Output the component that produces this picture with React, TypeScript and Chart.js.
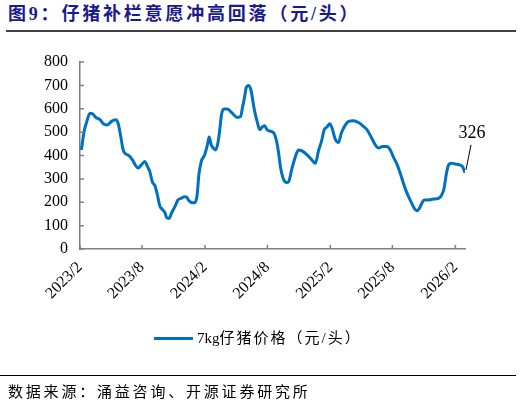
import React, { useEffect, useRef } from "react";
import { Chart, registerables } from "chart.js";

Chart.register(...registerables);

const titleText = "图9：仔猪补栏意愿冲高回落（元/头）";
const sourceText = "数据来源：涌益咨询、开源证券研究所";
const seriesUnit = "7kg";
const seriesNameRest = "仔猪价格（元/头）";
const seriesName = seriesUnit + seriesNameRest;
const lastValueLabel = "326";

const dates = [
  "2023-02-05", "2023-02-13", "2023-02-21", "2023-03-02", "2023-03-11", "2023-03-19", "2023-04-01", "2023-04-10",
  "2023-04-22", "2023-05-04", "2023-05-16", "2023-05-23", "2023-05-31", "2023-06-07", "2023-06-14", "2023-06-24",
  "2023-07-04", "2023-07-14", "2023-07-21", "2023-07-30", "2023-08-09", "2023-08-17", "2023-08-24", "2023-08-31",
  "2023-09-08", "2023-09-15", "2023-09-22", "2023-09-29", "2023-10-07", "2023-10-12", "2023-10-19", "2023-10-26",
  "2023-11-05", "2023-11-14", "2023-11-24", "2023-12-03", "2023-12-09", "2023-12-16", "2023-12-26", "2024-01-02",
  "2024-01-09", "2024-01-14", "2024-01-21", "2024-01-31", "2024-02-08", "2024-02-13", "2024-02-19", "2024-02-25",
  "2024-03-03", "2024-03-09", "2024-03-15", "2024-03-20", "2024-03-27", "2024-04-06", "2024-04-15", "2024-04-25",
  "2024-05-05", "2024-05-15", "2024-05-20", "2024-05-26", "2024-06-01", "2024-06-08", "2024-06-15", "2024-06-19",
  "2024-06-25", "2024-07-02", "2024-07-10", "2024-07-17", "2024-07-24", "2024-07-31", "2024-08-12", "2024-08-20",
  "2024-08-27", "2024-09-03", "2024-09-08", "2024-09-16", "2024-09-26", "2024-10-02", "2024-10-12", "2024-10-22",
  "2024-10-31", "2024-11-10", "2024-11-25", "2024-12-09", "2024-12-19", "2024-12-29", "2025-01-06", "2025-01-14",
  "2025-01-22", "2025-01-30", "2025-02-06", "2025-02-15", "2025-02-25", "2025-03-05", "2025-03-17", "2025-03-26",
  "2025-04-10", "2025-04-24", "2025-05-09", "2025-05-19", "2025-05-31", "2025-06-12", "2025-06-22", "2025-07-03",
  "2025-07-16", "2025-07-26", "2025-08-04", "2025-08-14", "2025-08-24", "2025-09-02", "2025-09-12", "2025-09-24",
  "2025-10-04", "2025-10-11", "2025-10-19", "2025-10-26", "2025-11-02", "2025-11-14", "2025-11-29", "2025-12-14",
  "2025-12-23", "2025-12-30", "2026-01-05", "2026-01-12", "2026-01-21", "2026-01-31", "2026-02-13", "2026-02-23",
  "2026-03-01",
];

const prices = [
  424, 503, 546, 581, 577, 563, 553, 536,
  531, 546, 553, 539, 481, 424, 407, 399,
  381, 356, 346, 360, 374, 353, 331, 288,
  270, 231, 184, 170, 156, 134, 131, 153,
  181, 210, 217, 224, 222, 207, 198, 198,
  231, 317, 374, 403, 446, 479, 446, 432,
  424, 449, 510, 574, 599, 599, 589, 574,
  563, 567, 603, 646, 693, 699, 674, 639,
  589, 546, 510, 522, 527, 510, 503, 496,
  467, 410, 353, 303, 284, 288, 346, 396,
  424, 420, 403, 381, 367, 424, 460, 510,
  522, 536, 517, 470, 456, 496, 531, 546,
  549, 541, 524, 510, 479, 446, 432, 439,
  439, 424, 393, 364, 324, 282, 241, 203,
  174, 164, 174, 196, 210, 210, 214, 217,
  231, 260, 317, 360, 367, 364, 360, 350,
  326,
];

const xTickDates = ["2023-02-01", "2023-08-01", "2024-02-01", "2024-08-01", "2025-02-01", "2025-08-01", "2026-02-01"];
const xTickLabels = ["2023/2", "2023/8", "2024/2", "2024/8", "2025/2", "2025/8", "2026/2"];
const yMin = 0;
const yMax = 800;
const yStep = 100;

const toDay = (s: string) => Date.parse(s) / 86400000;

const BLUE = "#0070C0";
const AXIS = "#808080";
const SERIF = "'Liberation Serif', 'Noto Sans CJK SC', serif";

const tickMarksPlugin = {
  id: "tickMarks",
  afterDraw(chart: any) {
    const ctx = chart.ctx;
    const xs = chart.scales.x;
    const ys = chart.scales.y;
    const area = chart.chartArea;
    ctx.save();
    ctx.strokeStyle = AXIS;
    ctx.lineWidth = 1.5;
    ctx.beginPath();
    ys.ticks.forEach((t: any) => {
      const py = ys.getPixelForValue(t.value);
      ctx.moveTo(area.left, py);
      ctx.lineTo(area.left + 4, py);
    });
    xs.ticks.forEach((t: any) => {
      const px = xs.getPixelForValue(t.value);
      ctx.moveTo(px, area.bottom);
      ctx.lineTo(px, area.bottom - 4);
    });
    ctx.stroke();

    const meta = chart.getDatasetMeta(0);
    const last = meta.data[meta.data.length - 1];
    if (last) {
      const px = last.x;
      const py = last.y;
      ctx.strokeStyle = "#000000";
      ctx.lineWidth = 1;
      ctx.beginPath();
      ctx.moveTo(px + 6, py - 28);
      ctx.lineTo(px + 1, py - 3);
      ctx.stroke();
      ctx.fillStyle = "#000000";
      ctx.font = "18px " + SERIF;
      ctx.textAlign = "center";
      ctx.textBaseline = "middle";
      ctx.fillText(lastValueLabel, px + 7, py - 40);
    }
    ctx.restore();
  },
};

export default function App() {
  const canvasRef = useRef<HTMLCanvasElement | null>(null);

  useEffect(() => {
    if (!canvasRef.current) return;
    const points = dates.map((d, i) => ({ x: toDay(d), y: prices[i] }));
    const tickValues = xTickDates.map(toDay);
    const chart = new Chart(canvasRef.current, {
      type: "line",
      data: {
        datasets: [
          {
            label: seriesName,
            data: points,
            borderColor: BLUE,
            backgroundColor: BLUE,
            borderWidth: 3,
            pointRadius: 0,
            cubicInterpolationMode: "monotone",
          } as any,
        ],
      },
      options: {
        animation: false,
        responsive: false,
        maintainAspectRatio: false,
        parsing: false as any,
        layout: { padding: { left: 0, right: 57, top: 62, bottom: 0 } },
        plugins: {
          legend: { display: false },
          tooltip: { enabled: false },
          title: { display: false },
        },
        scales: {
          x: {
            type: "linear",
            min: toDay(xTickDates[0]),
            max: toDay(dates[dates.length - 1]),
            grid: { display: false, drawTicks: false },
            border: { display: true, color: AXIS, width: 1.5 },
            afterBuildTicks: (scale: any) => {
              scale.ticks = tickValues.map((v) => ({ value: v }));
            },
            afterFit: (scale: any) => {
              scale.height = 156;
            },
            ticks: {
              autoSkip: false,
              minRotation: 45,
              maxRotation: 45,
              padding: 9,
              color: "#000000",
              font: { family: SERIF, size: 16 },
              callback: (_v: any, i: number) => xTickLabels[i],
            },
          },
          y: {
            type: "linear",
            min: yMin,
            max: yMax,
            grid: { display: false, drawTicks: false },
            border: { display: true, color: AXIS, width: 1.5 },
            afterFit: (scale: any) => {
              scale.width = 80;
            },
            ticks: {
              stepSize: yStep,
              padding: 12,
              color: "#000000",
              font: { family: SERIF, size: 16 },
            },
          },
        },
      },
      plugins: [tickMarksPlugin],
    });
    return () => chart.destroy();
  }, []);

  return (
    <div style={{ position: "fixed", left: 0, top: 0, width: 522, height: 405, background: "#fff", overflow: "hidden" }}>
      <div
        style={{
          position: "absolute",
          left: 8,
          top: 2,
          fontFamily: SERIF,
          fontWeight: "bold",
          fontSize: 18,
          letterSpacing: 2.8,
          color: "#1a1a8c",
          whiteSpace: "nowrap",
          lineHeight: "24px",
        }}
      >
        {titleText}
      </div>
      <div style={{ position: "absolute", left: 6, top: 30, width: 510, height: 1.5, background: "#404040" }} />
      <canvas ref={canvasRef} width={522} height={405} style={{ position: "absolute", left: 0, top: 0, width: 522, height: 405 }} />
      <div style={{ position: "absolute", left: 154, top: 336.5, width: 39, height: 3, background: BLUE }} />
      <div
        style={{
          position: "absolute",
          left: 197,
          top: 327,
          fontFamily: SERIF,
          fontSize: 15,
          color: "#000",
          whiteSpace: "nowrap",
          lineHeight: "22px",
        }}
      >
        <span>{seriesUnit}</span>
        <span style={{ letterSpacing: 2 }}>{seriesNameRest}</span>
      </div>
      <div style={{ position: "absolute", left: 0, top: 374.5, width: 516, height: 1.5, background: "#000" }} />
      <div
        style={{
          position: "absolute",
          left: 8,
          top: 381,
          fontFamily: SERIF,
          fontSize: 15,
          letterSpacing: 2.8,
          color: "#000",
          whiteSpace: "nowrap",
          lineHeight: "22px",
        }}
      >
        {sourceText}
      </div>
    </div>
  );
}
